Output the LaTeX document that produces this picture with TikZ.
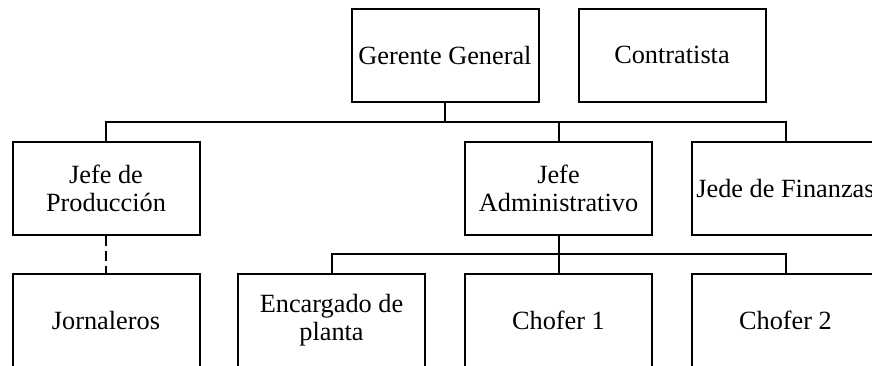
\documentclass[tikz,border=0pt]{standalone}
\usepackage{fontspec}
\setmainfont{Liberation Serif}
\begin{document}
\begin{tikzpicture}[x=1pt,y=-1pt,
  box/.style={draw=black,line width=2pt,minimum width=187pt,minimum height=93pt,inner sep=0pt,align=center,
    font=\fontsize{26.3}{28}\selectfont},
  link/.style={draw=black,line width=2pt},
  dlink/.style={draw=black,line width=2pt,dash pattern=on 10pt off 5pt}]
\useasboundingbox (0,0) rectangle (872,365);
\clip (0,0) rectangle (872,365);
\node[box] (gg) at (445,55) {Gerente General};
\node[box] (con) at (672,55) {Contratista};
\node[box] (jp) at (106,188) {Jefe de\\Producción};
\node[box] (ja) at (558.5,188) {Jefe\\Administrativo};
\node[box] (jf) at (785.5,188) {Jede de Finanzas};
\node[box] (jor) at (106,320) {Jornaleros};
\node[box] (enc) at (331.5,320) {Encargado de\\planta};
\node[box] (ch1) at (558.5,320) {Chofer 1};
\node[box] (ch2) at (785.5,320) {Chofer 2};
\coordinate (h1) at (0,122);
\coordinate (h2) at (0,254);
\draw[link] (gg.south) -- (gg.south |- h1);
\draw[link] (jp.north) |- (h1 -| jf.north) -- (jf.north);
\draw[link] (ja.north) -- (ja.north |- h1);
\draw[link] (enc.north) |- (h2 -| ch2.north) -- (ch2.north);
\draw[link] (ja.south) -- (ch1.north);
\draw[dlink] (jp.south) -- (jor.north);
\end{tikzpicture}
\end{document}
